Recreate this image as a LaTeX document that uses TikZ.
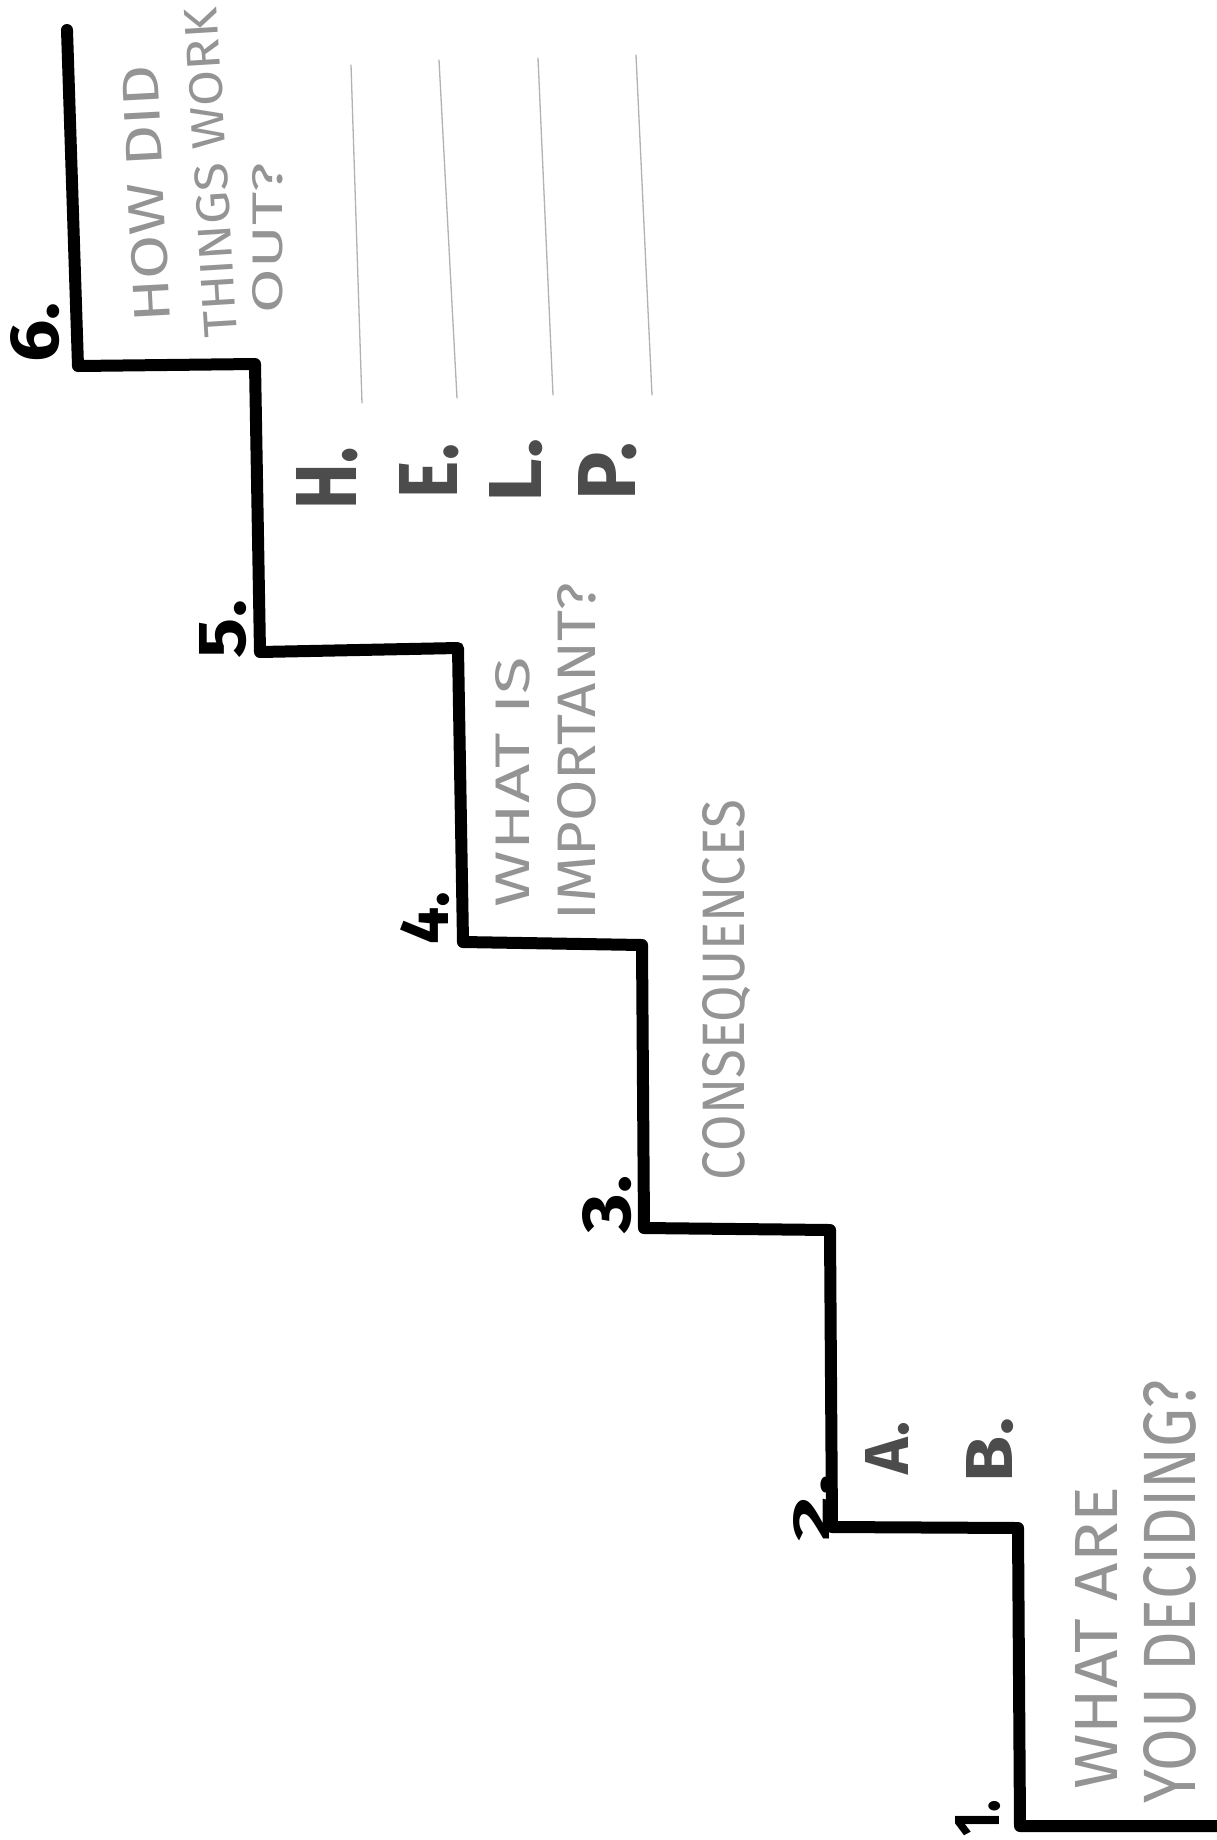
\documentclass[tikz,border=0pt]{standalone}
\usepackage{fontspec}
\usepackage{graphicx}
\setmainfont{Fira Sans}
\newfontfamily\pencilfont{Fira Sans}
\tikzset{
  stair/.style={line width=12pt, line join=round, line cap=round, black},
  ruled/.style={line width=1.3pt, black!30, line cap=round},
  pencil/.style={text=black!42, inner sep=0pt, font=\pencilfont},
  marker/.style={text=black, inner sep=0pt, font=\bfseries},
  helpl/.style={text=black!70, inner sep=0pt, font=\bfseries},
}
\begin{document}
\begin{tikzpicture}[x=1pt,y=-1pt]
\useasboundingbox[fill=white] (0,0) rectangle (1217,1840);

% staircase
\draw[stair] (67,30) -- (78,366) -- (255,364) -- (260,652) -- (458,648) -- (463,942)
  -- (642,945) -- (644,1228) -- (830,1230) -- (832,1527) -- (1018,1528) -- (1020,1826) -- (1217,1826);

% ruled pencil lines
\draw[ruled] (351,65) -- (362,403);
\draw[ruled] (439,60) -- (457,398);
\draw[ruled] (538,58) -- (553,395);
\draw[ruled] (636,55) -- (652,395);

% step numbers
\node[marker, rotate=90] (n6) at (35,332) {\resizebox{60pt}{48pt}{6.}};
\node[marker, rotate=90] (n5) at (223,629) {\resizebox{58pt}{46pt}{5.}};
\node[marker, rotate=90] (n4) at (425,918) {\resizebox{53pt}{48pt}{4.}};
\node[marker, rotate=90] (n3) at (607,1204) {\resizebox{58pt}{48pt}{3.}};
\node[marker, rotate=90] (n2) at (812,1508) {\resizebox{66pt}{36pt}{2.}};
\node[marker, rotate=90] (n1) at (978,1818) {\resizebox{37pt}{44pt}{1.}};

% HELP letters
\node[helpl, rotate=90] (h) at (327,478) {\resizebox{62pt}{60pt}{H.}};
\node[helpl, rotate=90] (e) at (429,471) {\resizebox{54pt}{58pt}{E.}};
\node[helpl, rotate=90] (l) at (516,470) {\resizebox{64pt}{52pt}{L.}};
\node[helpl, rotate=90] (p) at (608,471) {\resizebox{58pt}{57pt}{P.}};

% A. B.
\node[helpl, rotate=90] (a) at (888,1448) {\resizebox{52pt}{43pt}{A.}};
\node[helpl, rotate=90] (b) at (990,1450) {\resizebox{64pt}{46pt}{B.}};

% pencil texts
\node[pencil, rotate=93] (howdid) at (146,194) {\resizebox{258pt}{36pt}{HOW DID}};
\node[pencil, rotate=93.5] (things) at (211,173) {\resizebox{330pt}{33pt}{THINGS WORK}};
\node[pencil, rotate=90] (out) at (268,238) {\resizebox{150pt}{30pt}{OUT?}};

\node[pencil, rotate=90] (whatis) at (513,782) {\resizebox{250pt}{34pt}{WHAT IS}};
\node[pencil, rotate=90] (important) at (577,752) {\resizebox{337pt}{38pt}{IMPORTANT?}};

\node[pencil, rotate=90] (conseq) at (727,990) {\resizebox{380pt}{42pt}{CONSEQUENCES}};

\node[pencil, rotate=90] (whatare) at (1096,1638) {\resizebox{303pt}{42pt}{WHAT ARE}};
\node[pencil, rotate=90] (deciding) at (1170,1592) {\resizebox{423pt}{52pt}{YOU DECIDING?}};
\end{tikzpicture}
\end{document}
